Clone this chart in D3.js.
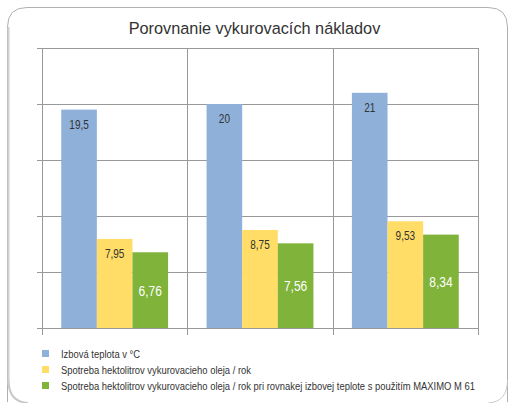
<!DOCTYPE html>
<html><head><meta charset="utf-8">
<script src="https://cdn.jsdelivr.net/npm/d3@7"></script>
<style>html,body{margin:0;padding:0;background:#fff;}svg{display:block;}</style>
</head><body>
<svg id="c" width="508" height="403"></svg>
<script>
const title = "Porovnanie vykurovacích nákladov";
const categories = ["A", "B", "C"];
const seriesNames = [
  "Izbová teplota v °C",
  "Spotreba hektolitrov vykurovacieho oleja / rok",
  "Spotreba hektolitrov vykurovacieho oleja / rok pri rovnakej izbovej teplote s použitím MAXIMO M 61"
];
const temperature = [19.5, 20, 21];
const oilUse = [7.95, 8.75, 9.53];
const oilUseMaximo = [6.76, 7.56, 8.34];
const yTicks = [0, 5, 10, 15, 20, 25];
const colors = ["#8EB0D9", "#FFDD66", "#80B33A"];
const labelColors = ["#333333", "#333333", "#ffffff"];

const series = [temperature, oilUse, oilUseMaximo];
const fmt = v => String(v).replace(".", ",");

const svg = d3.select("#c");
const font = "'Liberation Sans',Arial,sans-serif";
const squeeze = 0.8;

// frame
svg.append("path")
  .attr("d", "M7.5,402 L7.5,27 Q7.5,7.5 27,7.5 L488,7.5 Q507.5,7.5 507.5,27 L507.5,402")
  .attr("fill", "none").attr("stroke", "#b0b0b0").attr("stroke-width", 1);
svg.append("path")
  .attr("d", "M8.5,380 Q8.5,402 28,403")
  .attr("fill", "none").attr("stroke", "#c8c8c8").attr("stroke-width", 2);
svg.append("path")
  .attr("d", "M507.5,380 Q507.5,402 488,403")
  .attr("fill", "none").attr("stroke", "#c8c8c8").attr("stroke-width", 1);
svg.append("line").attr("x1", 8.5).attr("x2", 8.5).attr("y1", 27).attr("y2", 385)
  .attr("stroke", "#d0d0d0").attr("stroke-width", 2);

svg.append("text").attr("x", 254.5).attr("y", 34).attr("text-anchor", "middle")
  .attr("font-family", font).attr("font-size", 16.3)
  .attr("fill", "#333").text(title);

const pLeft = 42, pRight = 478, pTop = 48, pBottom = 328;
const x = d3.scaleBand().domain(categories).range([pLeft, pRight]).paddingInner(0).paddingOuter(0);
const y = d3.scaleLinear().domain([0, 25]).range([pBottom, pTop]);
const inner = d3.scaleBand().domain(d3.range(series.length)).range([0, x.bandwidth()]).paddingOuter(0.54).paddingInner(0);

const g = svg.append("g");
g.selectAll("line.h").data(yTicks).join("line")
  .attr("x1", pLeft - 5).attr("x2", pRight)
  .attr("y1", d => Math.round(y(d)) + 0.5).attr("y2", d => Math.round(y(d)) + 0.5)
  .attr("stroke", "#999").attr("stroke-width", 1);
const bounds = categories.map(c => x(c)).concat([pRight]);
g.selectAll("line.v").data(bounds).join("line")
  .attr("x1", d => Math.round(d) + 0.5).attr("x2", d => Math.round(d) + 0.5)
  .attr("y1", pTop).attr("y2", pBottom + 7)
  .attr("stroke", "#999").attr("stroke-width", 1);

series.forEach((vals, si) => {
  const gs = svg.append("g");
  gs.selectAll("rect").data(vals).join("rect")
    .attr("x", (d, i) => x(categories[i]) + inner(si))
    .attr("width", inner.bandwidth())
    .attr("y", d => y(d))
    .attr("height", d => y(0) - y(d))
    .attr("fill", colors[si]);
  gs.selectAll("text").data(vals).join("text")
    .attr("transform", (d, i) => {
      const tx = x(categories[i]) + inner(si) + inner.bandwidth() / 2;
      const ty = si === 2 ? (y(d) + y(0)) / 2 + 5.5 : y(d) + 19;
      return `translate(${tx},${ty}) scale(${squeeze},1)`;
    })
    .attr("text-anchor", "middle")
    .attr("font-family", font)
    .attr("font-size", si === 2 ? 15 : 12.5)
    .attr("fill", labelColors[si])
    .text(d => fmt(d));
});

const lg = svg.append("g");
seriesNames.forEach((name, i) => {
  const cy = 354 + i * 16;
  lg.append("rect").attr("x", 42).attr("y", cy - 4).attr("width", 7).attr("height", 7).attr("fill", colors[i]);
  lg.append("text").attr("transform", `translate(61,${cy + 4}) scale(0.82,1)`)
    .attr("font-family", font).attr("font-size", 11.5).attr("fill", "#333").text(name);
});
</script>
</body></html>
